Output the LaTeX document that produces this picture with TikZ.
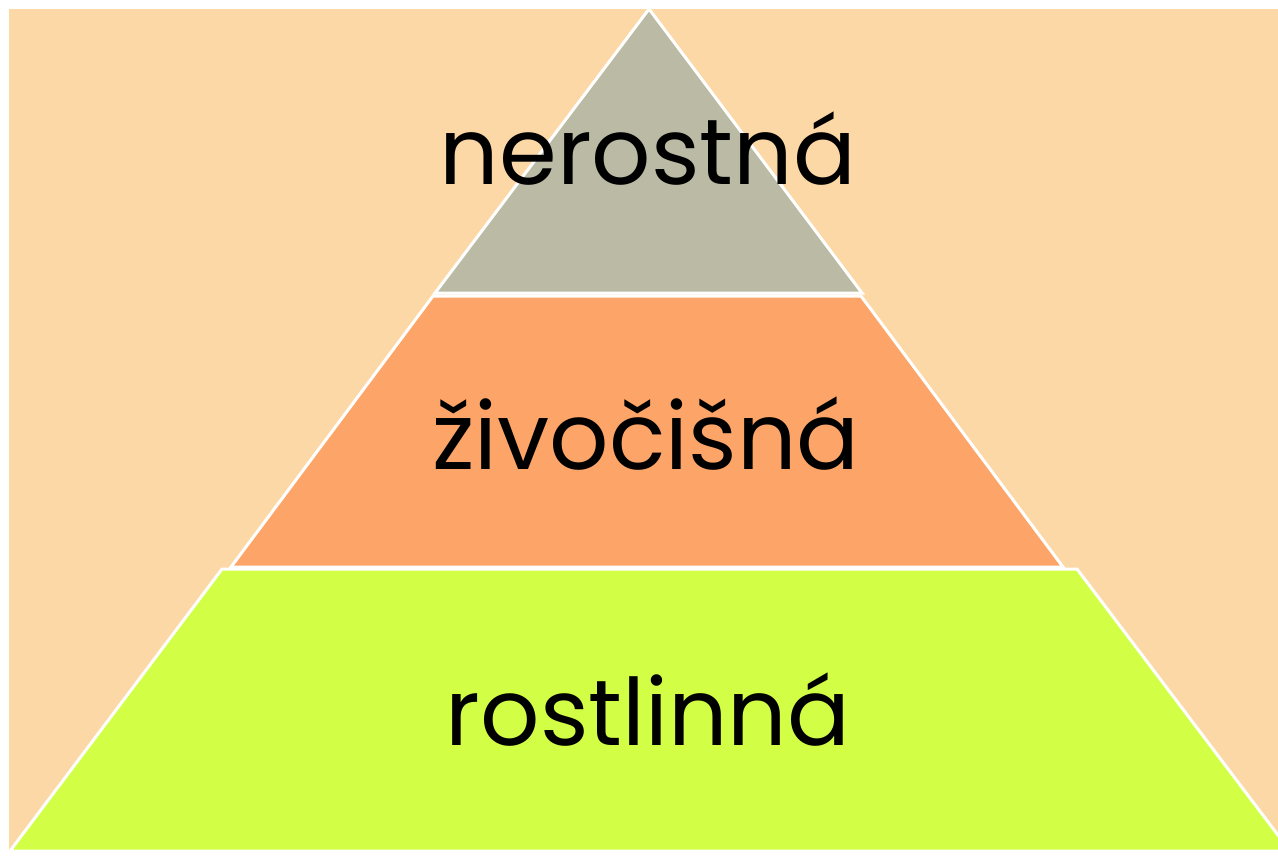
\documentclass[tikz,border=0pt]{standalone}
\usepackage{fontspec}
\setmainfont{Poppins}
\definecolor{peach}{RGB}{253,216,167}
\definecolor{topgray}{RGB}{187,187,165}
\definecolor{midorange}{RGB}{253,165,104}
\definecolor{lowgreen}{RGB}{210,255,70}
\tikzset{
  layer/.style={draw=white, line width=3pt, line join=miter},
  lbl/.style={anchor=base, font=\fontsize{93}{110}\selectfont, text=black, inner sep=0pt}
}
\begin{document}
\begin{tikzpicture}[x=1pt,y=-1pt]
\useasboundingbox (0,0) rectangle (1278,855);
\fill[white] (0,0) rectangle (1278,855);
\clip (0,0) rectangle (1278,855);
\fill[peach] (9,9) rectangle (1280,851);
% bottom layer
\draw[layer, fill=lowgreen] (222,569) -- (1077,569) -- (1290,851) -- (10,851) -- cycle;
% middle layer
\draw[layer, fill=midorange] (433,296) -- (861,296) -- (1063,567) -- (231,567) -- cycle;
% top layer
\draw[layer, fill=topgray] (649,9) -- (862,293) -- (435,293) -- cycle;
\node[lbl] (t1) at (648,184) {nerostná};
\node[lbl] (t2) at (646,469) {živočišná};
\node[lbl] (t3) at (648,745) {rostlinná};
\end{tikzpicture}
\end{document}
